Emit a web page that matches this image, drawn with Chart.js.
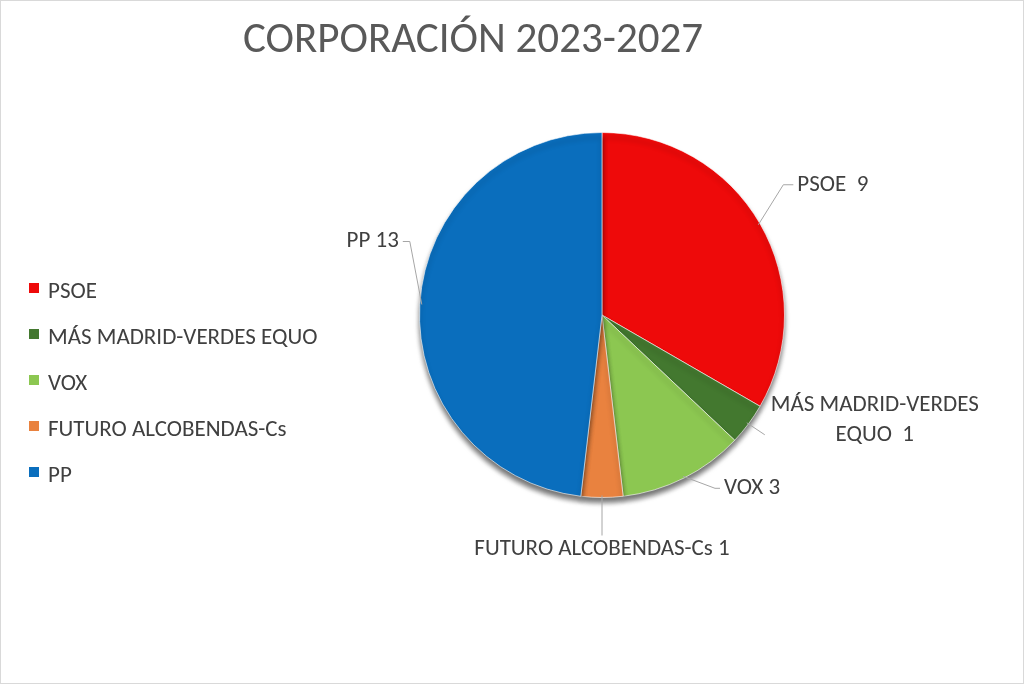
<!DOCTYPE html>
<html><head><meta charset="utf-8">
<script src="https://cdn.jsdelivr.net/npm/chart.js@4"></script>
<style>
body{margin:0;background:#fff;font-family:Carlito,Lato,"Liberation Sans",sans-serif}
#wrap{position:relative;width:1022px;height:682px;border:1px solid #d9d9d9}
#title{position:absolute;left:0;width:944px;top:10px;text-align:center;font-size:43px;color:#595959}
#legend{position:absolute;left:28px;top:275px;font-size:23px;color:#404040}
#legend div{height:46px;display:flex;align-items:flex-start}
#legend span{display:inline-block;width:10px;height:10px;margin:7px 9px 0 0}
</style></head><body>
<div id="wrap">
<canvas id="c" width="1022" height="682"></canvas>
<div id="title">CORPORACIÓN 2023-2027</div>
<div id="legend"></div>
</div>
<script>
// Data
const parties = ["PSOE", "MÁS MADRID-VERDES EQUO", "VOX", "FUTURO ALCOBENDAS-Cs", "PP"];
const seats = [9, 1, 3, 1, 13];
const colors = ["#EE0A0A", "#43782F", "#8CC751", "#E9823F", "#0A6EBD"];
const labelText = [["PSOE  9"], ["MÁS MADRID-VERDES", "EQUO  1"], ["VOX 3"], ["FUTURO ALCOBENDAS-Cs 1"], ["PP 13"]];

// legend
const leg = document.getElementById('legend');
parties.forEach((p, i) => {
  leg.innerHTML += `<div><span style="background:${colors[i]}"></span>${p}</div>`;
});

// label placement relative to the slice edge point
const placement = [
  {ex: 25, ey: -40, hx: 10, align: 'left'},
  {ex: 18, ey: 12, hx: 0, align: 'center', tx: 110, ty: -30},
  {ex: 32, ey: 12, hx: 5, align: 'left'},
  {ex: 0, ey: 40, hx: 0, align: 'center', ty: 14},
  {ex: -12, ey: -63, hx: -7, align: 'right'}
];

const shadowPlugin = {
  id: 'shadow',
  beforeDatasetsDraw(chart) {
    const ctx = chart.ctx;
    ctx.save();
    ctx.shadowColor = 'rgba(0,0,0,0.55)';
    ctx.shadowOffsetY = 5;
    ctx.shadowBlur = 5;
  },
  afterDatasetsDraw(chart) {
    chart.ctx.restore();
    const ctx = chart.ctx;
    const meta = chart.getDatasetMeta(0);
    ctx.save();
    ctx.font = '23px Carlito, Lato, "Liberation Sans", sans-serif';
    ctx.fillStyle = '#404040';
    ctx.strokeStyle = '#a6a6a6';
    ctx.lineWidth = 1;
    meta.data.forEach((arc, i) => {
      const mid = (arc.startAngle + arc.endAngle) / 2;
      const px = arc.x + Math.cos(mid) * (arc.outerRadius - 2);
      const py = arc.y + Math.sin(mid) * (arc.outerRadius - 2);
      const p = placement[i];
      const qx = px + p.ex, qy = py + p.ey;
      ctx.beginPath();
      ctx.moveTo(px, py);
      ctx.lineTo(qx, qy);
      ctx.lineTo(qx + p.hx, qy);
      ctx.stroke();
      ctx.textAlign = p.align;
      ctx.textBaseline = 'middle';
      const tx = qx + p.hx + (p.tx || (p.align === 'left' ? 4 : p.align === 'right' ? -4 : 0));
      const ty = qy + (p.ty || 0);
      labelText[i].forEach((t, k) => ctx.fillText(t, tx, ty + k * 30));
    });
    ctx.restore();
  }
};

new Chart(document.getElementById('c'), {
  type: 'pie',
  data: {labels: parties, datasets: [{data: seats, backgroundColor: colors, borderColor: 'rgba(255,255,255,0.6)', borderWidth: 1}]},
  options: {
    responsive: false,
    animation: false,
    layout: {padding: {left: 417, right: 237, top: 131, bottom: 185}},
    plugins: {legend: {display: false}, tooltip: {enabled: false}}
  },
  plugins: [shadowPlugin]
});
</script>
</body></html>
